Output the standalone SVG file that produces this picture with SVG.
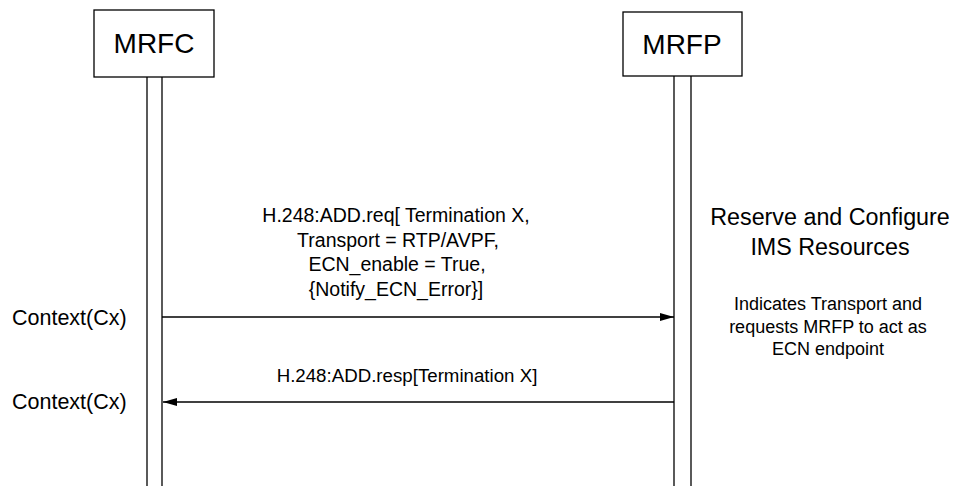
<svg xmlns="http://www.w3.org/2000/svg" width="959" height="486" viewBox="0 0 959 486">
<style>
text{font-family:"Liberation Sans",Arial,sans-serif;fill:#000}
.box{fill:#fff;stroke:#000;stroke-width:1.3}
.life{stroke:#000;stroke-width:1.3;fill:none}
.msg{stroke:#000;stroke-width:1.3;fill:none}
.t28{font-size:28px}
.t20{font-size:19.5px}
.t19{font-size:18.7px}
.t21{font-size:21.5px}
.t22{font-size:23.3px}
.t18{font-size:18px}
</style>
<defs>
<marker id="ah" markerWidth="14" markerHeight="8" refX="14" refY="4" orient="auto" markerUnits="userSpaceOnUse">
<path d="M0,0 L14,4 L0,8 Z" fill="#000"/>
</marker>
</defs>
<g id="MRFC">
<rect class="box" x="94" y="10" width="120" height="67"/>
<text class="t28" x="154" y="53" text-anchor="middle">MRFC</text>
<line class="life" x1="147" y1="77" x2="147" y2="486"/>
<line class="life" x1="162" y1="77" x2="162" y2="486"/>
</g>
<g id="MRFP">
<rect class="box" x="623" y="12" width="119" height="64"/>
<text class="t28" x="682" y="54" text-anchor="middle">MRFP</text>
<line class="life" x1="674" y1="76" x2="674" y2="486"/>
<line class="life" x1="691" y1="76" x2="691" y2="486"/>
</g>
<g id="connectors">
<line class="msg" x1="162" y1="317" x2="674" y2="317" marker-end="url(#ah)"/>
<line class="msg" x1="674" y1="402" x2="163" y2="402" marker-end="url(#ah)"/>
</g>
<g id="labels">
<text class="t20" text-anchor="middle" x="396" y="222">H.248:ADD.req[ Termination X,</text>
<text class="t20" text-anchor="middle" x="398" y="246.5">Transport = RTP/AVPF,</text>
<text class="t20" text-anchor="middle" x="397" y="271">ECN_enable = True,</text>
<text class="t20" text-anchor="middle" x="396" y="295.5">{Notify_ECN_Error}]</text>
<text class="t19" text-anchor="middle" x="407" y="382">H.248:ADD.resp[Termination X]</text>
<text class="t21" x="12" y="325">Context(Cx)</text>
<text class="t21" x="12" y="409">Context(Cx)</text>
<text class="t22" text-anchor="middle" x="830" y="225">Reserve and Configure</text>
<text class="t22" text-anchor="middle" x="830" y="255">IMS Resources</text>
<text class="t18" text-anchor="middle" x="828" y="310">Indicates Transport and</text>
<text class="t18" text-anchor="middle" x="828" y="333">requests MRFP to act as</text>
<text class="t18" text-anchor="middle" x="828" y="355">ECN endpoint</text>
</g>
</svg>
